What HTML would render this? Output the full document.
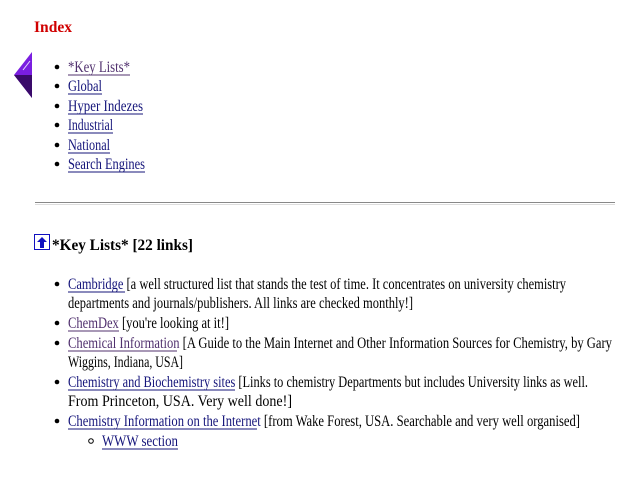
<!DOCTYPE html>
<html><head><meta charset="utf-8"><style>
html,body{margin:0;padding:0;background:#fff;width:640px;height:480px;overflow:hidden}
svg{display:block}
text{font-family:"Liberation Serif",serif;font-size:16px}
.l{fill:#14147a}.v{fill:#50306e}
</style></head><body>
<svg width="640" height="480" viewBox="0 0 640 480">
<text x="34" y="32" textLength="38" lengthAdjust="spacingAndGlyphs" style="font-weight:bold;fill:#d00000;font-size:16px">Index</text>
<polygon points="32,52 14,75 32,98" fill="#7a1ee0"/>
<polygon points="14,75 32,75 32,98" fill="#3a0a6a"/>
<line x1="23" y1="70" x2="30" y2="61" stroke="#e8d8ff" stroke-width="1"/>
<g fill="#000">
<circle cx="57" cy="67" r="2.3"/><circle cx="57" cy="86" r="2.3"/><circle cx="57" cy="106" r="2.3"/>
<circle cx="57" cy="125" r="2.3"/><circle cx="57" cy="145" r="2.3"/><circle cx="57" cy="164" r="2.3"/>
</g>
<text x="68" y="72" textLength="62" lengthAdjust="spacingAndGlyphs" class="v">*Key Lists*</text>
<text x="68" y="91" textLength="34" lengthAdjust="spacingAndGlyphs" class="l">Global</text>
<text x="68" y="111" textLength="75" lengthAdjust="spacingAndGlyphs" class="l">Hyper Indezes</text>
<text x="68" y="130" textLength="45" lengthAdjust="spacingAndGlyphs" class="l">Industrial</text>
<text x="68" y="150" textLength="42" lengthAdjust="spacingAndGlyphs" class="l">National</text>
<text x="68" y="169" textLength="77" lengthAdjust="spacingAndGlyphs" class="l">Search Engines</text>
<g stroke-width="1">
<line x1="68" x2="130" y1="75" y2="75" stroke="#50306e"/>
<line x1="68" x2="102" y1="94" y2="94" stroke="#14147a"/>
<line x1="68" x2="143" y1="114" y2="114" stroke="#14147a"/>
<line x1="68" x2="113" y1="133" y2="133" stroke="#14147a"/>
<line x1="68" x2="110" y1="153" y2="153" stroke="#14147a"/>
<line x1="68" x2="145" y1="172" y2="172" stroke="#14147a"/>
</g>
<line x1="35" x2="615" y1="202.5" y2="202.5" stroke="#888"/>
<line x1="35" x2="615" y1="204.5" y2="204.5" stroke="#ddd"/>
<rect x="34.5" y="234.5" width="15" height="15" fill="#fff" stroke="#1010c0"/>
<polygon points="42,237 37,242 40,242 40,248 44,248 44,242 47,242" fill="#1010c0"/>
<text x="52" y="250" textLength="141" lengthAdjust="spacingAndGlyphs" style="font-weight:bold;font-size:16px">*Key Lists* [22 links]</text>
<g fill="#000">
<circle cx="57" cy="284" r="2.3"/><circle cx="57" cy="323" r="2.3"/><circle cx="57" cy="343" r="2.3"/>
<circle cx="57" cy="382" r="2.3"/><circle cx="57" cy="421" r="2.3"/>
</g>
<circle cx="91" cy="441" r="2.3" fill="none" stroke="#000"/>
<text x="68" y="289" textLength="498" lengthAdjust="spacingAndGlyphs"><tspan class="l">Cambridge</tspan> [a well structured list that stands the test of time. It concentrates on university chemistry</text>
<text x="68" y="308" textLength="345" lengthAdjust="spacingAndGlyphs">departments and journals/publishers. All links are checked monthly!]</text>
<text x="68" y="328" textLength="161" lengthAdjust="spacingAndGlyphs"><tspan class="v">ChemDex</tspan> [you're looking at it!]</text>
<text x="68" y="348" textLength="544" lengthAdjust="spacingAndGlyphs"><tspan class="v">Chemical Information</tspan> [A Guide to the Main Internet and Other Information Sources for Chemistry, by Gary</text>
<text x="68" y="367" textLength="115" lengthAdjust="spacingAndGlyphs">Wiggins, Indiana, USA]</text>
<text x="68" y="387" textLength="520" lengthAdjust="spacingAndGlyphs"><tspan class="l">Chemistry and Biochemistry sites</tspan> [Links to chemistry Departments but includes University links as well.</text>
<text x="68" y="406" textLength="224" lengthAdjust="spacingAndGlyphs">From Princeton, USA. Very well done!]</text>
<text x="68" y="426" textLength="512" lengthAdjust="spacingAndGlyphs"><tspan class="l">Chemistry Information on the Internet</tspan> [from Wake Forest, USA. Searchable and very well organised]</text>
<text x="102" y="446" textLength="76" lengthAdjust="spacingAndGlyphs" class="l">WWW section</text>
<line x1="68" x2="125" y1="292" y2="292" stroke="#14147a"/>
<line x1="68" x2="119" y1="331" y2="331" stroke="#50306e"/>
<line x1="68" x2="177" y1="351" y2="351" stroke="#50306e"/>
<line x1="68" x2="235" y1="390" y2="390" stroke="#14147a"/>
<line x1="68" x2="257" y1="429" y2="429" stroke="#14147a"/>
<line x1="102" x2="178" y1="449" y2="449" stroke="#14147a"/>
</svg>
</body></html>
